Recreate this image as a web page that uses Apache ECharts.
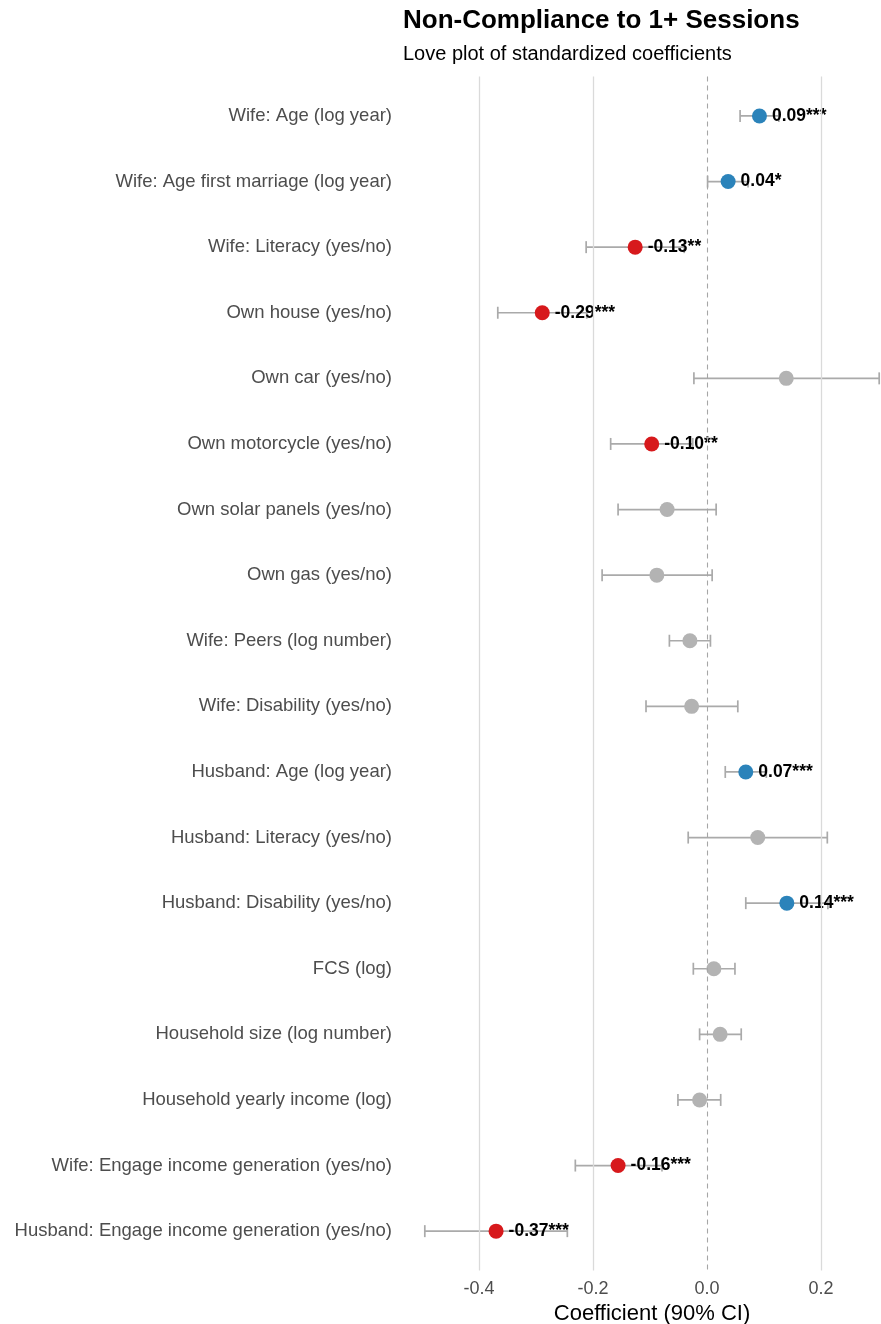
<!DOCTYPE html>
<html>
<head>
<meta charset="utf-8">
<script src="https://cdn.jsdelivr.net/npm/echarts@6/dist/echarts.min.js"></script>
<style>
  html, body { margin: 0; padding: 0; background: #fff; }
  #chart { width: 881px; height: 1324px; }
</style>
</head>
<body>
<div id="chart"></div>
<script>
// rows, top to bottom
const labels = [
  'Wife: Age (log year)',
  'Wife: Age first marriage (log year)',
  'Wife: Literacy (yes/no)',
  'Own house (yes/no)',
  'Own car (yes/no)',
  'Own motorcycle (yes/no)',
  'Own solar panels (yes/no)',
  'Own gas (yes/no)',
  'Wife: Peers (log number)',
  'Wife: Disability (yes/no)',
  'Husband: Age (log year)',
  'Husband: Literacy (yes/no)',
  'Husband: Disability (yes/no)',
  'FCS (log)',
  'Household size (log number)',
  'Household yearly income (log)',
  'Wife: Engage income generation (yes/no)',
  'Husband: Engage income generation (yes/no)'
];
const estimates = [0.092, 0.037, -0.126, -0.289, 0.139, -0.097, -0.070, -0.088, -0.030, -0.027,
  0.068, 0.089, 0.140, 0.012, 0.023, -0.013, -0.156, -0.370];
const ciLow = [0.058, 0.001, -0.212, -0.367, -0.023, -0.169, -0.156, -0.184, -0.066, -0.107,
  0.032, -0.033, 0.068, -0.024, -0.013, -0.051, -0.231, -0.495];
const ciHigh = [0.126, 0.072, -0.040, -0.211, 0.302, -0.025, 0.016, 0.009, 0.006, 0.054,
  0.104, 0.211, 0.212, 0.049, 0.060, 0.024, -0.079, -0.245];
const stars = ['***', '*', '**', '***', '', '**', '', '', '', '',
  '***', '', '***', '', '', '', '***', '***'];
const xTicks = [-0.4, -0.2, 0, 0.2];

const font = '"Liberation Sans", Arial, Helvetica, sans-serif';
const BLUE = '#2b83ba', RED = '#d7191c', GREY = '#b3b3b3';

function pointColor(i) {
  if (!stars[i]) return GREY;
  return estimates[i] > 0 ? BLUE : RED;
}

const chart = echarts.init(document.getElementById('chart'));

const ciData = labels.map((l, i) => [ciLow[i], ciHigh[i], i + 1]);
const ptData = labels.map((l, i) => ({
  value: [estimates[i], i + 1],
  itemStyle: { color: pointColor(i), opacity: 1 },
  label: {
    show: !!stars[i],
    formatter: estimates[i].toFixed(2) + stars[i]
  }
}));

chart.setOption({
  animation: false,
  title: {
    text: 'Non-Compliance to 1+ Sessions',
    subtext: 'Love plot of standardized coefficients',
    left: 403,
    top: 8,
    padding: 0,
    itemGap: 10,
    textStyle: { fontFamily: font, fontSize: 26, fontWeight: 'bold', color: '#000' },
    subtextStyle: { fontFamily: font, fontSize: 20, color: '#000' }
  },
  grid: { left: 402, top: 76.6, width: 500, height: 1193.9, outerBoundsMode: 'none', containLabel: false },
  xAxis: {
    type: 'value',
    min: -0.535,
    max: 0.342,
    name: 'Coefficient (90% CI)',
    nameLocation: 'middle',
    nameGap: 32,
    nameTextStyle: { fontFamily: font, fontSize: 22, color: '#000' },
    axisLine: { show: false },
    axisTick: { show: false },
    splitLine: { show: false },
    axisLabel: {
      customValues: xTicks,
      margin: 10,
      fontFamily: font,
      fontSize: 18,
      color: '#4d4d4d',
      formatter: v => v.toFixed(1)
    }
  },
  yAxis: {
    type: 'value',
    inverse: true,
    min: 0.4,
    max: 18.6,
    axisLine: { show: false },
    axisTick: { show: false },
    splitLine: { show: false },
    axisLabel: {
      customValues: labels.map((l, i) => i + 1),
      margin: 10,
      padding: [4, 0, 0, 0],
      fontFamily: font,
      fontSize: 18.5,
      color: '#4d4d4d',
      formatter: v => labels[Math.round(v) - 1] || ''
    }
  },
  series: [
    {
      type: 'line',
      data: [],
      silent: true,
      markLine: {
        silent: true,
        symbol: 'none',
        label: { show: false },
        data: xTicks.filter(v => v !== 0).map(v => ({
          xAxis: v,
          lineStyle: { color: '#dadada', width: 1.3, type: 'solid' }
        })).concat([{
          xAxis: 0,
          lineStyle: { color: '#a6a6a6', width: 1.1, type: [5, 4] }
        }])
      },
      z: 1
    },
    {
      type: 'custom',
      data: ciData,
      z: 2,
      renderItem: function (params, api) {
        const lo = api.coord([api.value(0), api.value(2)]);
        const hi = api.coord([api.value(1), api.value(2)]);
        const h = 6;
        const style = { stroke: '#aaaaaa', lineWidth: 1.7 };
        return {
          type: 'group',
          children: [
            { type: 'line', shape: { x1: lo[0], y1: lo[1], x2: hi[0], y2: hi[1] }, style },
            { type: 'line', shape: { x1: lo[0], y1: lo[1] - h, x2: lo[0], y2: lo[1] + h }, style },
            { type: 'line', shape: { x1: hi[0], y1: hi[1] - h, x2: hi[0], y2: hi[1] + h }, style }
          ]
        };
      }
    },
    {
      type: 'scatter',
      data: ptData,
      symbolSize: 15,
      z: 3,
      label: {
        position: 'right',
        distance: 5,
        fontFamily: font,
        fontSize: 17.5,
        fontWeight: 'bold',
        color: '#000'
      }
    }
  ]
});
</script>
</body>
</html>
